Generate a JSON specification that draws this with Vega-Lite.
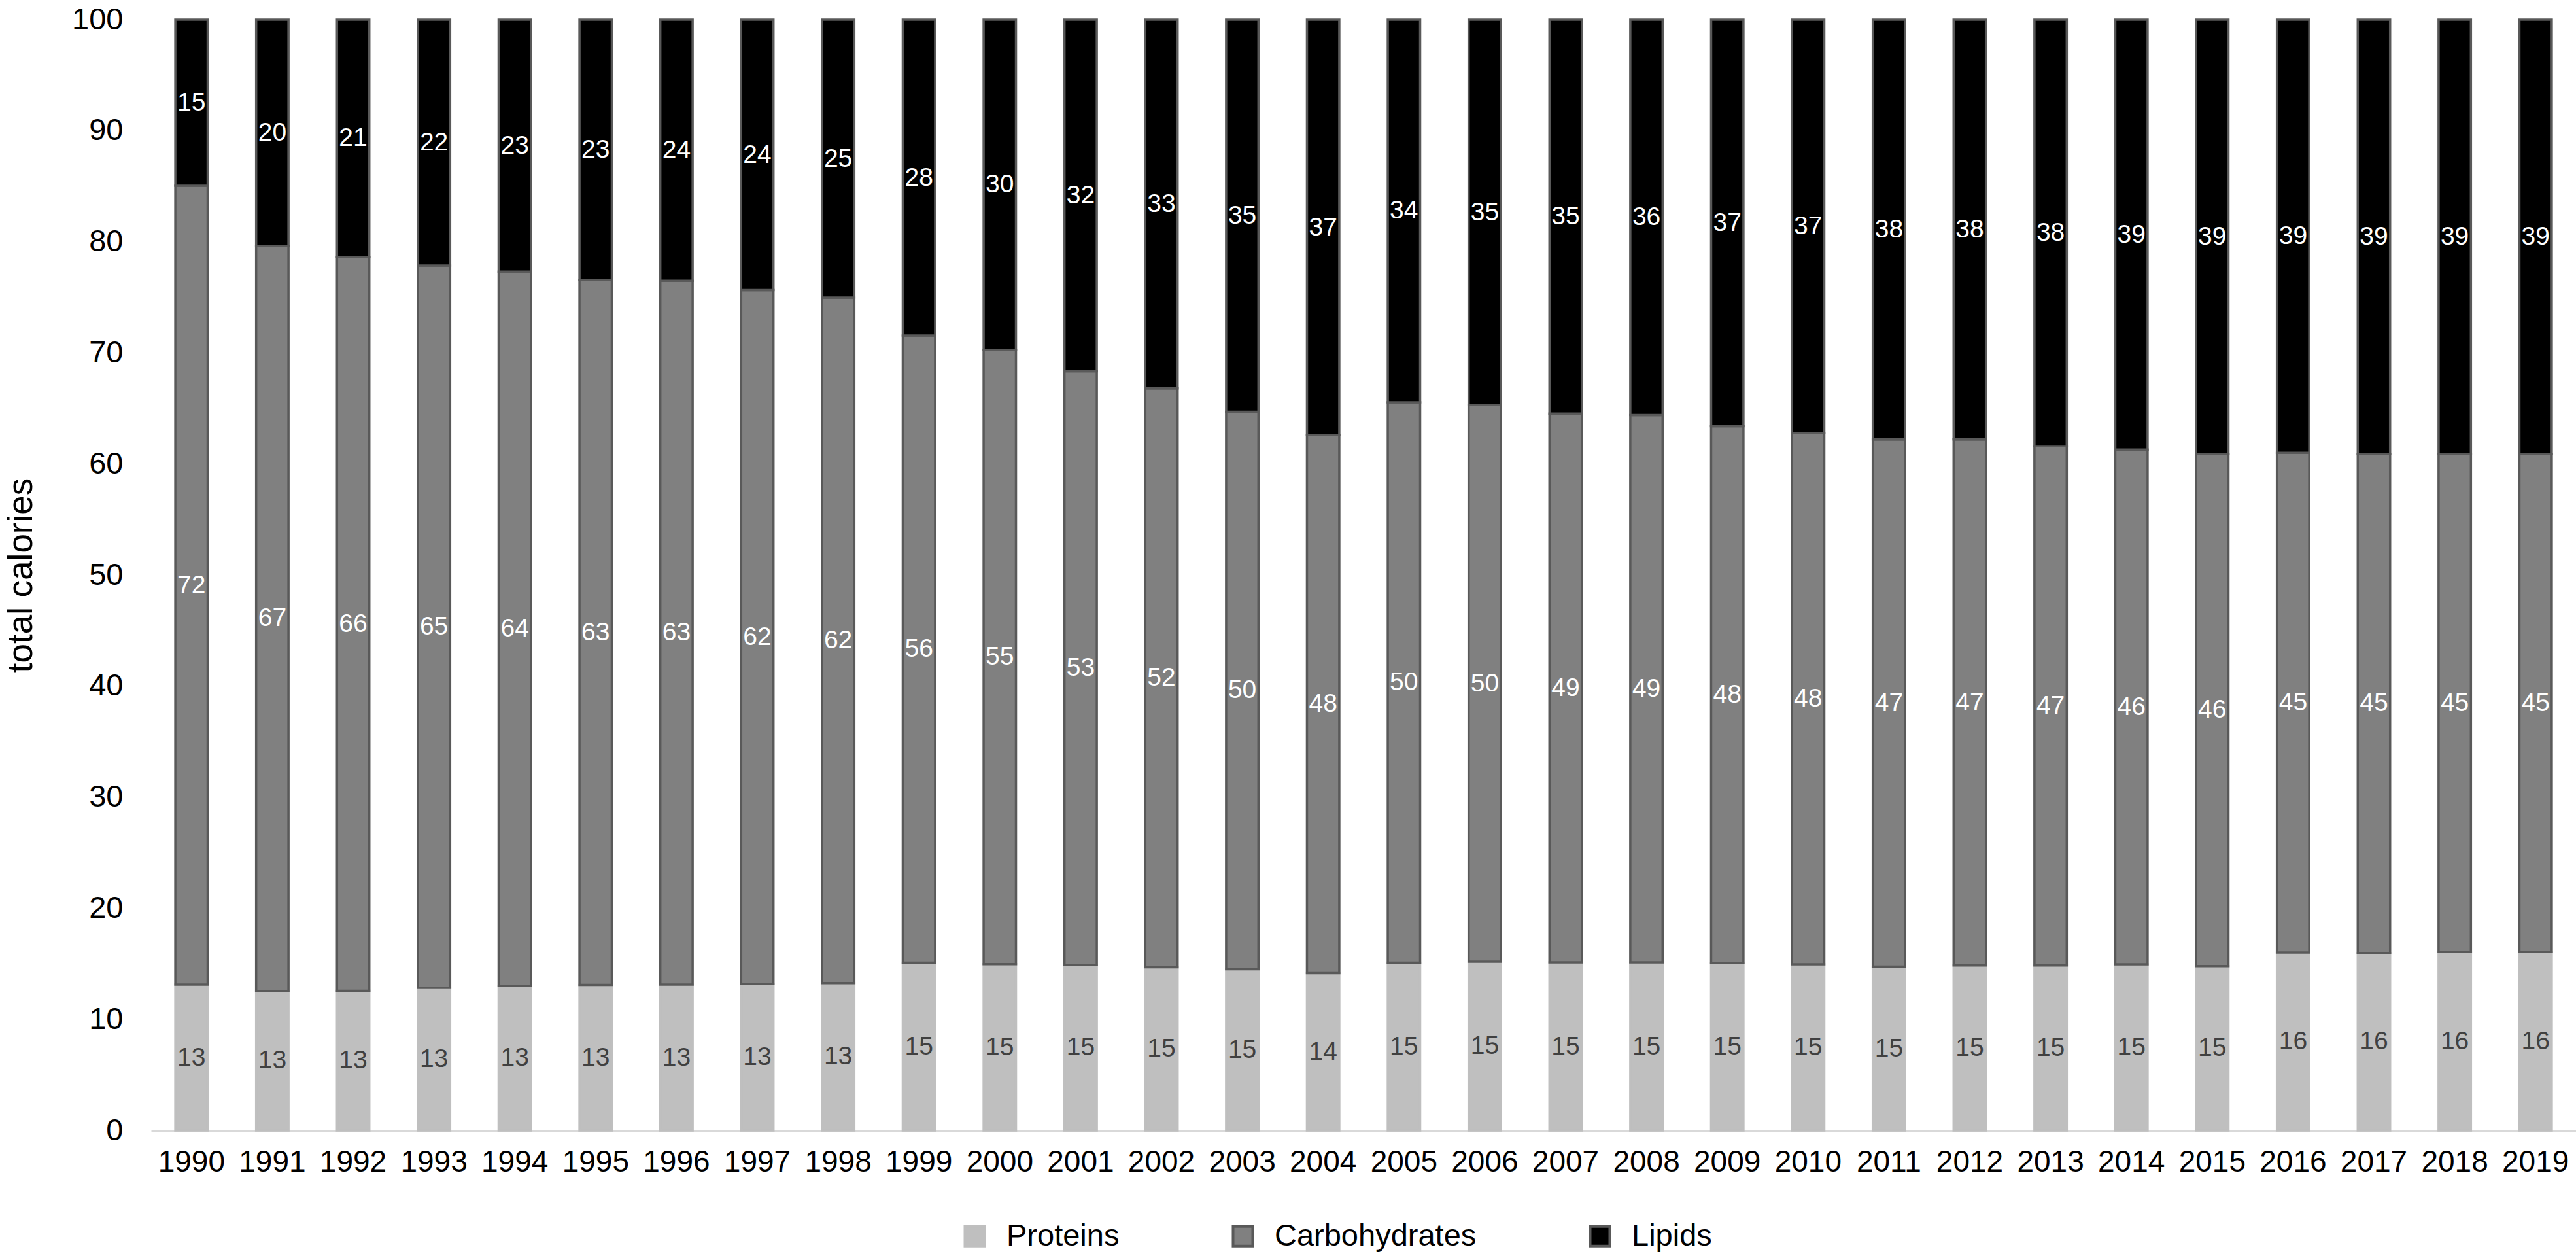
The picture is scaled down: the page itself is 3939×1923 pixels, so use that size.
{
  "$schema": "https://vega.github.io/schema/vega-lite/v6.json",
  "autosize": "none",
  "width": 3708,
  "height": 1698,
  "padding": {"left": 231, "top": 30, "right": 0, "bottom": 195},
  "background": "white",
  "config": {"font": "Liberation Sans", "view": {"stroke": null}},
  "data": {"values": [
    {"year": "1990", "nutrient": "Proteins", "value": 13.13}, {"year": "1990", "nutrient": "Carbohydrates", "value": 71.91}, {"year": "1990", "nutrient": "Lipids", "value": 14.96},
    {"year": "1991", "nutrient": "Proteins", "value": 12.55}, {"year": "1991", "nutrient": "Carbohydrates", "value": 67.07}, {"year": "1991", "nutrient": "Lipids", "value": 20.38},
    {"year": "1992", "nutrient": "Proteins", "value": 12.58}, {"year": "1992", "nutrient": "Carbohydrates", "value": 66.06}, {"year": "1992", "nutrient": "Lipids", "value": 21.36},
    {"year": "1993", "nutrient": "Proteins", "value": 12.84}, {"year": "1993", "nutrient": "Carbohydrates", "value": 65.02}, {"year": "1993", "nutrient": "Lipids", "value": 22.14},
    {"year": "1994", "nutrient": "Proteins", "value": 13.03}, {"year": "1994", "nutrient": "Carbohydrates", "value": 64.28}, {"year": "1994", "nutrient": "Lipids", "value": 22.69},
    {"year": "1995", "nutrient": "Proteins", "value": 13.10}, {"year": "1995", "nutrient": "Carbohydrates", "value": 63.45}, {"year": "1995", "nutrient": "Lipids", "value": 23.45},
    {"year": "1996", "nutrient": "Proteins", "value": 13.13}, {"year": "1996", "nutrient": "Carbohydrates", "value": 63.35}, {"year": "1996", "nutrient": "Lipids", "value": 23.52},
    {"year": "1997", "nutrient": "Proteins", "value": 13.20}, {"year": "1997", "nutrient": "Carbohydrates", "value": 62.45}, {"year": "1997", "nutrient": "Lipids", "value": 24.35},
    {"year": "1998", "nutrient": "Proteins", "value": 13.27}, {"year": "1998", "nutrient": "Carbohydrates", "value": 61.70}, {"year": "1998", "nutrient": "Lipids", "value": 25.03},
    {"year": "1999", "nutrient": "Proteins", "value": 15.10}, {"year": "1999", "nutrient": "Carbohydrates", "value": 56.45}, {"year": "1999", "nutrient": "Lipids", "value": 28.45},
    {"year": "2000", "nutrient": "Proteins", "value": 14.98}, {"year": "2000", "nutrient": "Carbohydrates", "value": 55.28}, {"year": "2000", "nutrient": "Lipids", "value": 29.74},
    {"year": "2001", "nutrient": "Proteins", "value": 14.90}, {"year": "2001", "nutrient": "Carbohydrates", "value": 53.45}, {"year": "2001", "nutrient": "Lipids", "value": 31.65},
    {"year": "2002", "nutrient": "Proteins", "value": 14.70}, {"year": "2002", "nutrient": "Carbohydrates", "value": 52.10}, {"year": "2002", "nutrient": "Lipids", "value": 33.20},
    {"year": "2003", "nutrient": "Proteins", "value": 14.52}, {"year": "2003", "nutrient": "Carbohydrates", "value": 50.18}, {"year": "2003", "nutrient": "Lipids", "value": 35.30},
    {"year": "2004", "nutrient": "Proteins", "value": 14.17}, {"year": "2004", "nutrient": "Carbohydrates", "value": 48.43}, {"year": "2004", "nutrient": "Lipids", "value": 37.40},
    {"year": "2005", "nutrient": "Proteins", "value": 15.10}, {"year": "2005", "nutrient": "Carbohydrates", "value": 50.45}, {"year": "2005", "nutrient": "Lipids", "value": 34.45},
    {"year": "2006", "nutrient": "Proteins", "value": 15.19}, {"year": "2006", "nutrient": "Carbohydrates", "value": 50.11}, {"year": "2006", "nutrient": "Lipids", "value": 34.70},
    {"year": "2007", "nutrient": "Proteins", "value": 15.13}, {"year": "2007", "nutrient": "Carbohydrates", "value": 49.40}, {"year": "2007", "nutrient": "Lipids", "value": 35.47},
    {"year": "2008", "nutrient": "Proteins", "value": 15.13}, {"year": "2008", "nutrient": "Carbohydrates", "value": 49.27}, {"year": "2008", "nutrient": "Lipids", "value": 35.60},
    {"year": "2009", "nutrient": "Proteins", "value": 15.08}, {"year": "2009", "nutrient": "Carbohydrates", "value": 48.32}, {"year": "2009", "nutrient": "Lipids", "value": 36.60},
    {"year": "2010", "nutrient": "Proteins", "value": 14.96}, {"year": "2010", "nutrient": "Carbohydrates", "value": 47.84}, {"year": "2010", "nutrient": "Lipids", "value": 37.20},
    {"year": "2011", "nutrient": "Proteins", "value": 14.76}, {"year": "2011", "nutrient": "Carbohydrates", "value": 47.44}, {"year": "2011", "nutrient": "Lipids", "value": 37.80},
    {"year": "2012", "nutrient": "Proteins", "value": 14.86}, {"year": "2012", "nutrient": "Carbohydrates", "value": 47.34}, {"year": "2012", "nutrient": "Lipids", "value": 37.80},
    {"year": "2013", "nutrient": "Proteins", "value": 14.86}, {"year": "2013", "nutrient": "Carbohydrates", "value": 46.74}, {"year": "2013", "nutrient": "Lipids", "value": 38.40},
    {"year": "2014", "nutrient": "Proteins", "value": 14.96}, {"year": "2014", "nutrient": "Carbohydrates", "value": 46.34}, {"year": "2014", "nutrient": "Lipids", "value": 38.70},
    {"year": "2015", "nutrient": "Proteins", "value": 14.80}, {"year": "2015", "nutrient": "Carbohydrates", "value": 46.10}, {"year": "2015", "nutrient": "Lipids", "value": 39.10},
    {"year": "2016", "nutrient": "Proteins", "value": 16.02}, {"year": "2016", "nutrient": "Carbohydrates", "value": 44.98}, {"year": "2016", "nutrient": "Lipids", "value": 39.00},
    {"year": "2017", "nutrient": "Proteins", "value": 15.98}, {"year": "2017", "nutrient": "Carbohydrates", "value": 44.92}, {"year": "2017", "nutrient": "Lipids", "value": 39.10},
    {"year": "2018", "nutrient": "Proteins", "value": 16.06}, {"year": "2018", "nutrient": "Carbohydrates", "value": 44.84}, {"year": "2018", "nutrient": "Lipids", "value": 39.10},
    {"year": "2019", "nutrient": "Proteins", "value": 16.06}, {"year": "2019", "nutrient": "Carbohydrates", "value": 44.84}, {"year": "2019", "nutrient": "Lipids", "value": 39.10}
  ]},
  "transform": [
    {"calculate": "indexof(['Proteins','Carbohydrates','Lipids'], datum.nutrient)", "as": "ord"},
    {"stack": "value", "groupby": ["year"], "sort": [{"field": "ord", "order": "ascending"}], "as": ["y0", "y1"]},
    {"calculate": "(datum.y0 + datum.y1) / 2", "as": "mid"}
  ],
  "encoding": {
    "x": {
      "field": "year", "type": "ordinal",
      "scale": {"paddingInner": 0.6, "paddingOuter": 0.3},
      "axis": {
        "title": null, "labelAngle": 0, "labelFontSize": 46, "labelColor": "#000000",
        "labelPadding": 26, "ticks": false, "domainColor": "#d9d9d9", "domainWidth": 3, "grid": false
      }
    }
  },
  "layer": [
    {
      "mark": {"type": "bar", "strokeWidth": 3.5},
      "encoding": {
        "y": {
          "field": "y0", "type": "quantitative",
          "scale": {"domain": [0, 100], "nice": false},
          "axis": {
            "title": "total calories", "titleFontSize": 53, "titleFontWeight": "normal", "titleColor": "#000000",
            "titlePadding": 50, "values": [0, 10, 20, 30, 40, 50, 60, 70, 80, 90, 100],
            "labelFontSize": 47, "labelColor": "#000000", "labelPadding": 43,
            "ticks": false, "domain": false, "grid": false
          }
        },
        "y2": {"field": "y1"},
        "color": {
          "field": "nutrient", "type": "nominal",
          "scale": {"domain": ["Proteins", "Carbohydrates", "Lipids"], "range": ["#bfbfbf", "#808080", "#000000"]},
          "legend": {
            "orient": "none", "legendX": 1236, "legendY": 1836, "direction": "horizontal", "title": null,
            "symbolType": "square", "symbolSize": 900, "symbolStrokeWidth": 4, "labelFontSize": 47,
            "labelColor": "#000000", "labelOffset": 25, "columnPadding": 165, "padding": 0, "labelLimit": 0
          }
        },
        "stroke": {
          "field": "nutrient", "type": "nominal",
          "scale": {"domain": ["Proteins", "Carbohydrates", "Lipids"], "range": ["#bfbfbf", "#595959", "#595959"]}
        }
      }
    },
    {
      "mark": {"type": "text", "fontSize": 39, "baseline": "middle", "align": "center"},
      "encoding": {
        "y": {"field": "mid", "type": "quantitative"},
        "text": {"field": "value", "type": "quantitative", "format": ".0f"},
        "color": {"condition": {"test": "datum.nutrient === 'Proteins'", "value": "#404040"}, "value": "#ffffff"}
      }
    }
  ]
}
